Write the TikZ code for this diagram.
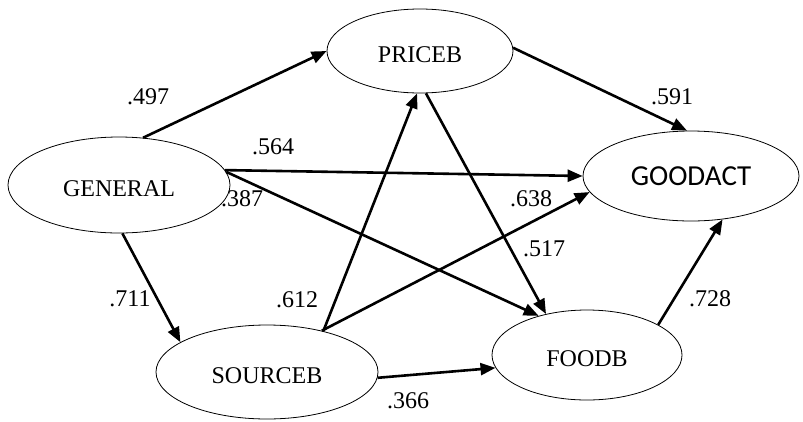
\documentclass[tikz,border=0pt]{standalone}
\usepackage{fontspec}
\setmainfont{Liberation Serif}
\newfontfamily\calfont{Carlito}
\usetikzlibrary{shapes.geometric,arrows.meta}
\begin{document}
\begin{tikzpicture}[x=1pt,y=-1pt,
  latent/.style={ellipse,draw,line width=0.8pt,inner sep=0pt,text height=22pt,text depth=0pt,font=\fontsize{24}{28}\selectfont},
  link/.style={line width=2.6pt,-{Triangle[length=15pt,width=12pt]}},
  coef/.style={font=\fontsize{24}{28}\selectfont,inner sep=0pt}]
\useasboundingbox (0,0) rectangle (803,421);
\node[latent,minimum width=222pt,minimum height=96pt] (general) at (119,185) {GENERAL};
\node[latent,minimum width=186pt,minimum height=84pt] (priceb) at (420,51) {PRICEB};
\node[latent,minimum width=216pt,minimum height=90pt,text height=18pt,font=\calfont\fontsize{29}{33}\selectfont] (goodact) at (691,176) {GOODACT};
\node[latent,minimum width=222pt,minimum height=94pt] (sourceb) at (267,372) {SOURCEB};
\node[latent,minimum width=190pt,minimum height=90pt] (foodb) at (587,355) {FOODB};

\draw[link] (general.63) -- (priceb.180);
\draw[link] (general.8) -- (goodact.180);
\draw[link] (general.7) -- (foodb.141);
\draw[link] (general.274) -- (sourceb.161);
\draw[link] (sourceb.36) -- (priceb.266);
\draw[link] (sourceb.37) -- (goodact.189);
\draw[link] (sourceb.-3) -- (foodb.188);
\draw[link] (priceb.278) -- (foodb.135);
\draw[link] (priceb.2) -- (goodact.95);
\draw[link] (foodb.23) -- (goodact.306);

\node[coef] (c497) at (148,97) {.497};
\node[coef] (c564) at (273,147) {.564};
\node[coef] (c387) at (242,199) {.387};
\node[coef] (c711) at (130,299) {.711};
\node[coef] (c612) at (297,300) {.612};
\node[coef] (c638) at (531,199) {.638};
\node[coef] (c517) at (544,249) {.517};
\node[coef] (c591) at (672,97) {.591};
\node[coef] (c728) at (710,299) {.728};
\node[coef] (c366) at (408,401) {.366};
\end{tikzpicture}
\end{document}
